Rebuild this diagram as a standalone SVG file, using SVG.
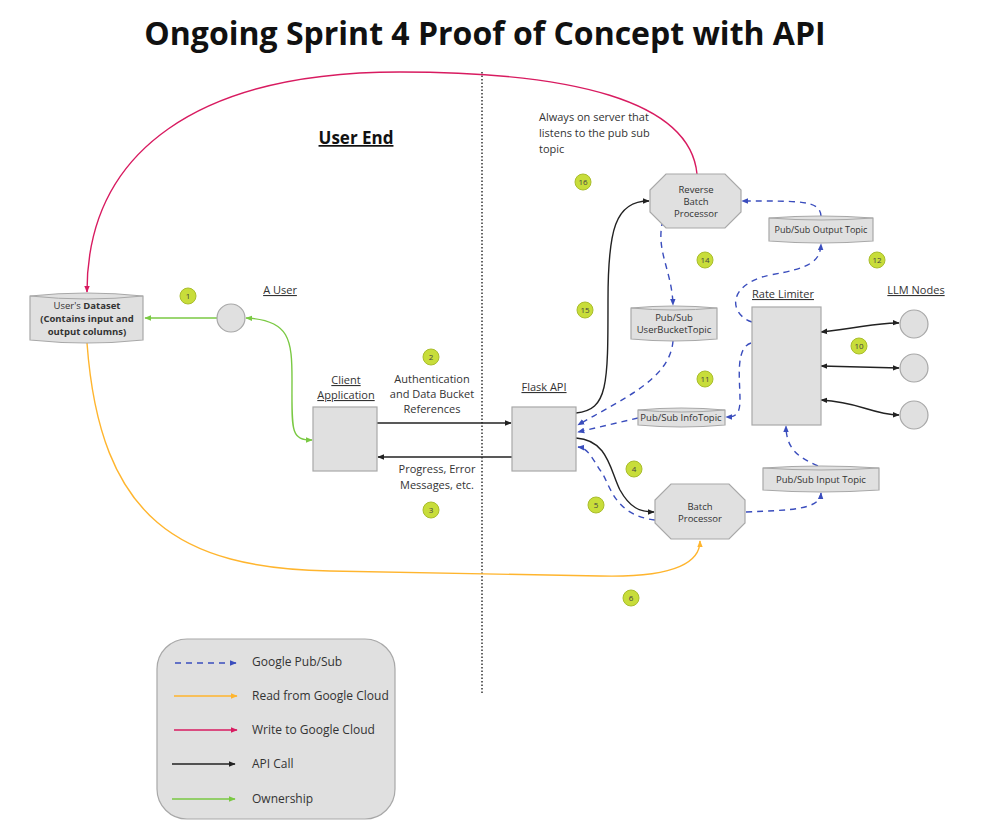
<svg xmlns="http://www.w3.org/2000/svg" width="990" height="836" viewBox="0 0 990 836">
<defs>
<style>
text{font-family:"Open Sans","Liberation Sans",sans-serif;fill:#333;}
.t{font-size:11px;}
.s{font-size:9.5px;text-anchor:middle;}
.u{text-decoration:underline;}
.box{fill:#e0e0e0;stroke:#a8a8a8;stroke-width:1.2;}
.num circle{fill:#c8dd3a;stroke:#a9bd2c;stroke-width:1;}
.num text{font-size:8px;text-anchor:middle;fill:#444;}
.blue{fill:none;stroke:#3a4dbd;stroke-width:1.4;stroke-dasharray:6 5;marker-end:url(#ab);}
.blk{fill:none;stroke:#222;stroke-width:1.4;marker-end:url(#ak);}
</style>
<marker id="ab" viewBox="0 0 10 10" refX="9" refY="5" markerWidth="7" markerHeight="7" markerUnits="userSpaceOnUse" orient="auto-start-reverse"><path d="M0,1 L10,5 L0,9 z" fill="#3a4dbd"/></marker>
<marker id="ak" viewBox="0 0 10 10" refX="9" refY="5" markerWidth="7" markerHeight="7" markerUnits="userSpaceOnUse" orient="auto-start-reverse"><path d="M0,1 L10,5 L0,9 z" fill="#222"/></marker>
<marker id="ag" viewBox="0 0 10 10" refX="9" refY="5" markerWidth="7" markerHeight="7" markerUnits="userSpaceOnUse" orient="auto-start-reverse"><path d="M0,1 L10,5 L0,9 z" fill="#7ac943"/></marker>
<marker id="ao" viewBox="0 0 10 10" refX="9" refY="5" markerWidth="7" markerHeight="7" markerUnits="userSpaceOnUse" orient="auto-start-reverse"><path d="M0,1 L10,5 L0,9 z" fill="#ffb52e"/></marker>
<marker id="ap" viewBox="0 0 10 10" refX="9" refY="5" markerWidth="7" markerHeight="7" markerUnits="userSpaceOnUse" orient="auto-start-reverse"><path d="M0,1 L10,5 L0,9 z" fill="#d81b60"/></marker>
</defs>
<rect width="990" height="836" fill="#fff"/>
<text x="485" y="45" style="font-size:32px;font-weight:bold;fill:#111;text-anchor:middle">Ongoing Sprint 4 Proof of Concept with API</text>
<line x1="482" y1="72" x2="482" y2="695" stroke="#333" stroke-width="1.5" stroke-dasharray="1.5 2"/>
<text x="356" y="144" class="u" style="font-size:17px;font-weight:bold;fill:#111;text-anchor:middle">User End</text>

<g id="connectors">
<path d="M697 174 C690 100 570 72 400 72 C200 72 87 150 87 292" fill="none" stroke="#d81b60" stroke-width="1.4" marker-end="url(#ap)"/>
<path d="M217 318 L145 318" fill="none" stroke="#7ac943" stroke-width="1.4" marker-end="url(#ag)"/>
<path d="M246 318 C290 320 292 340 292 380 C292 430 290 440 312 440" fill="none" stroke="#7ac943" stroke-width="1.4" marker-start="url(#ag)" marker-end="url(#ag)"/>
<path d="M87 343 C100 520 180 568 330 571 L600 576 C680 578 700 560 700 541" fill="none" stroke="#ffb52e" stroke-width="1.4" marker-end="url(#ao)"/>
<path d="M377 423 L511 423" class="blk"/>
<path d="M512 457 L378 457" class="blk"/>
<path d="M576 413 C608 410 608 385 608 300 C608 230 615 201 649 201" class="blk"/>
<path d="M576 438 C608 440 610 470 620 490 C630 508 640 512 654 512" class="blk"/>
<path d="M821 332 C860 328 880 322 899 323" class="blk" marker-start="url(#ak)"/>
<path d="M821 366 L899 368" class="blk" marker-start="url(#ak)"/>
<path d="M821 400 C860 402 870 414 899 415" class="blk" marker-start="url(#ak)"/>
<path d="M821 216 C820 200 800 201 742 201" class="blue"/>
<path d="M663 220 C655 250 672 270 673 305" class="blue"/>
<path d="M673 341 C670 380 620 400 578 425" class="blue"/>
<path d="M638 418 L578 432" class="blue"/>
<path d="M751 343 C735 348 740 380 740 400 C740 415 735 417 726 417" class="blue"/>
<path d="M752 322 C730 315 725 285 770 275 C810 268 820 262 821 244" class="blue"/>
<path d="M655 520 C612 515 610 482 600 470 C592 458 588 448 578 447" class="blue"/>
<path d="M746 512 C790 510 820 510 821 493" class="blue"/>
<path d="M818 466 C800 458 786 450 786 426" class="blue"/>
</g>

<g id="dataset">
<path d="M30 296 Q87 290 143 296 L143 340 Q87 346 30 340 Z" class="box"/>
<path d="M30 296 Q87 302 143 296" fill="none" stroke="#a8a8a8" stroke-width="1"/>
<text x="87" y="309" class="s">User's <tspan font-weight="bold">Dataset</tspan></text>
<text x="87" y="322" class="s" font-weight="bold">(Contains input and</text>
<text x="87" y="335" class="s" font-weight="bold">output columns)</text>
</g>

<g id="user">
<text x="280" y="294" class="t u" text-anchor="middle">A User</text>
<circle cx="231" cy="318" r="14" class="box"/>
</g>

<g id="client">
<text x="346" y="384" class="t u" text-anchor="middle">Client </text>
<text x="346" y="399" class="t u" text-anchor="middle">Application </text>
<rect x="313" y="407" width="64" height="64" class="box"/>
</g>

<g id="labels">
<text x="432" y="383" class="t" text-anchor="middle">Authentication</text>
<text x="432" y="398" class="t" text-anchor="middle">and Data Bucket</text>
<text x="432" y="413" class="t" text-anchor="middle">References</text>
<text x="437" y="473" class="t" text-anchor="middle">Progress, Error</text>
<text x="437" y="489" class="t" text-anchor="middle">Messages, etc.</text>
<text x="539" y="121" class="t">Always on server that</text>
<text x="539" y="137" class="t">listens to the pub sub</text>
<text x="539" y="153" class="t">topic</text>
</g>

<g id="flask">
<text x="544" y="391" class="t u" text-anchor="middle">Flask API</text>
<rect x="512" y="407" width="64" height="64" class="box"/>
</g>

<g id="reverse">
<polygon points="666,174 725,174 741,190 741,212 725,228 666,228 650,212 650,190" class="box"/>
<text x="696" y="193" class="s">Reverse</text>
<text x="696" y="205" class="s">Batch</text>
<text x="696" y="217" class="s">Processor</text>
</g>

<g id="batch">
<polygon points="671,484 729,484 745,500 745,523 729,539 671,539 655,523 655,500" class="box"/>
<text x="700" y="510" class="s">Batch</text>
<text x="700" y="522" class="s">Processor</text>
</g>

<g id="outputTopic">
<path d="M769 218 Q821 214 873 218 L873 241 Q821 245 769 241 Z" class="box"/>
<path d="M769 218 Q821 222 873 218" fill="none" stroke="#a8a8a8" stroke-width="1"/>
<text x="821" y="233" class="s" style="font-size:9px">Pub/Sub Output Topic</text>
</g>

<g id="userBucketTopic">
<path d="M631 308 Q674 304 717 308 L717 339 Q674 343 631 339 Z" class="box"/>
<path d="M631 308 Q674 312 717 308" fill="none" stroke="#a8a8a8" stroke-width="1"/>
<text x="674" y="321" class="s">Pub/Sub</text>
<text x="674" y="333" class="s">UserBucketTopic</text>
</g>

<g id="infoTopic">
<path d="M638 410 Q681 406 725 410 L725 425 Q681 429 638 425 Z" class="box"/>
<path d="M638 410 Q681 414 725 410" fill="none" stroke="#a8a8a8" stroke-width="1"/>
<text x="681" y="421" class="s">Pub/Sub InfoTopic</text>
</g>

<g id="inputTopic">
<path d="M763 468 Q821 464 879 468 L879 490 Q821 494 763 490 Z" class="box"/>
<path d="M763 468 Q821 472 879 468" fill="none" stroke="#a8a8a8" stroke-width="1"/>
<text x="821" y="483" class="s">Pub/Sub Input Topic</text>
</g>

<g id="rateLimiter">
<text x="783" y="298" class="t u" text-anchor="middle">Rate Limiter</text>
<rect x="752" y="307" width="69" height="118" class="box"/>
</g>

<g id="llmNodes">
<text x="916" y="294" class="t u" text-anchor="middle">LLM Nodes </text>
<circle cx="914" cy="324" r="14" class="box"/>
<circle cx="914" cy="368" r="14" class="box"/>
<circle cx="914" cy="415" r="14" class="box"/>
</g>

<g id="numbers" class="num">
<g><circle cx="188" cy="296" r="8"/><text x="188" y="299">1</text></g>
<g><circle cx="431" cy="357" r="8"/><text x="431" y="360">2</text></g>
<g><circle cx="431" cy="510" r="8"/><text x="431" y="513">3</text></g>
<g><circle cx="634" cy="469" r="8"/><text x="634" y="472">4</text></g>
<g><circle cx="596" cy="505" r="8"/><text x="596" y="508">5</text></g>
<g><circle cx="631" cy="598" r="8"/><text x="631" y="601">6</text></g>
<g><circle cx="859" cy="346" r="8"/><text x="859" y="349">10</text></g>
<g><circle cx="705" cy="379" r="8"/><text x="705" y="382">11</text></g>
<g><circle cx="877" cy="260" r="8"/><text x="877" y="263">12</text></g>
<g><circle cx="705" cy="260" r="8"/><text x="705" y="263">14</text></g>
<g><circle cx="585" cy="310" r="8"/><text x="585" y="313">15</text></g>
<g><circle cx="583" cy="182" r="8"/><text x="583" y="185">16</text></g>
</g>

<g id="legend">
<rect x="157" y="639" width="238" height="180" rx="30" class="box"/>
<line x1="175" y1="663" x2="236" y2="663" class="blue"/>
<line x1="174" y1="696" x2="237" y2="696" stroke="#ffb52e" stroke-width="1.4" marker-end="url(#ao)"/>
<line x1="174" y1="730" x2="237" y2="730" stroke="#d81b60" stroke-width="1.4" marker-end="url(#ap)"/>
<line x1="172" y1="764" x2="235" y2="764" class="blk"/>
<line x1="172" y1="799" x2="235" y2="799" stroke="#7ac943" stroke-width="1.4" marker-end="url(#ag)"/>
<text x="252" y="666" class="t" style="font-size:12px">Google Pub/Sub</text>
<text x="252" y="700" class="t" style="font-size:12px">Read from Google Cloud</text>
<text x="252" y="734" class="t" style="font-size:12px">Write to Google Cloud</text>
<text x="252" y="768" class="t" style="font-size:12px">API Call</text>
<text x="252" y="803" class="t" style="font-size:12px">Ownership</text>
</g>
</svg>
